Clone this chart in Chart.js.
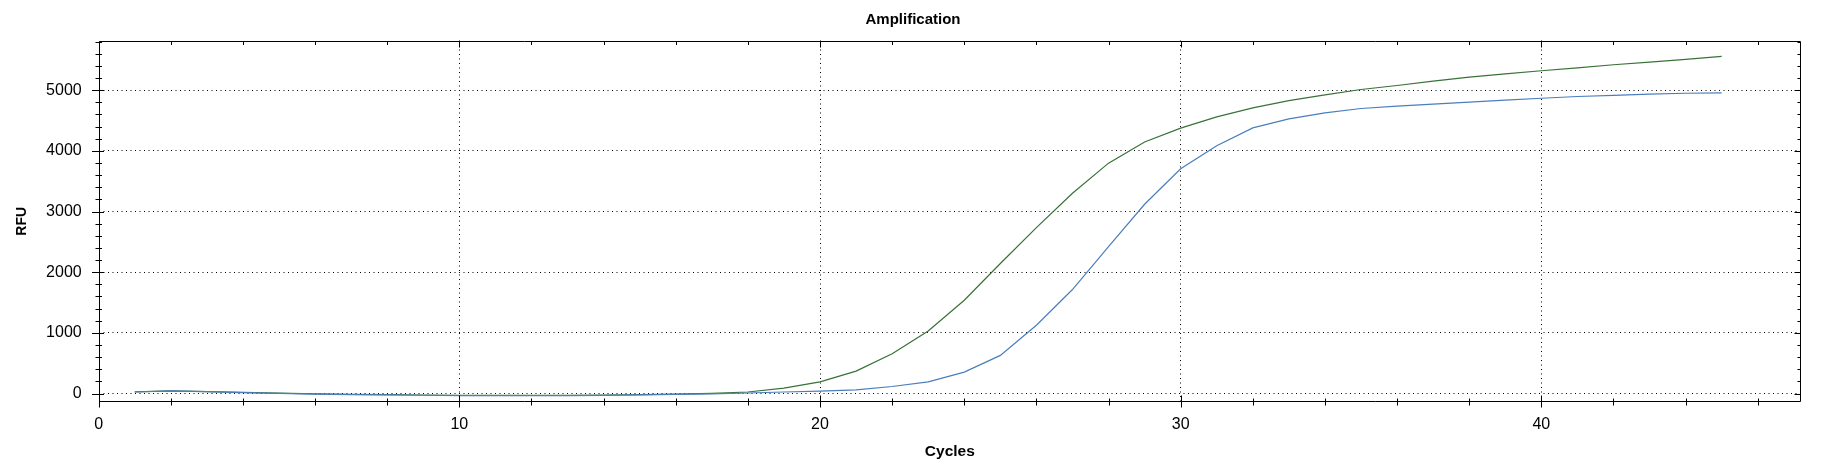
<!DOCTYPE html>
<html>
<head>
<meta charset="utf-8">
<script src="https://cdn.jsdelivr.net/npm/chart.js@4.4.0/dist/chart.umd.min.js"></script>
<style>
html,body{margin:0;padding:0;background:#ffffff;}
#wrap{width:1826px;height:476px;position:relative;}
</style>
</head>
<body>
<div id="wrap"><canvas id="c" width="1826" height="476"></canvas></div>
<script>
// ---- data ----
const cycles = [1,2,3,4,5,6,7,8,9,10,11,12,13,14,15,16,17,18,19,20,21,22,23,24,25,26,27,28,29,30,31,32,33,34,35,36,37,38,39,40,41,42,43,44,45];
const greenRFU = [28,45,32,18,5,-6,-14,-20,-25,-29,-31,-31,-29,-25,-18,-10,2,25,88,193,369,656,1031,1538,2144,2734,3302,3798,4146,4375,4560,4709,4830,4924,5012,5078,5149,5215,5271,5321,5370,5420,5463,5510,5557];
const blueRFU  = [25,42,30,15,2,-9,-17,-24,-29,-34,-36,-36,-34,-30,-23,-15,-5,8,25,39,61,116,193,353,628,1125,1714,2420,3120,3705,4086,4379,4528,4627,4699,4738,4771,4804,4837,4868,4897,4914,4936,4950,4958];
const xTickValues = [0,2,4,6,8,10,12,14,16,18,20,22,24,26,28,30,32,34,36,38,40,42,44,46];
const xTickLabels = [0,10,20,30,40];
const yTickValues = [0,200,400,600,800,1000,1200,1400,1600,1800,2000,2200,2400,2600,2800,3000,3200,3400,3600,3800,4000,4200,4400,4600,4800,5000,5200,5400,5600,5800];
const yTickLabels = [0,1000,2000,3000,4000,5000];
const chartTitle = 'Amplification';
const xTitle = 'Cycles';
const yTitle = 'RFU';

const FONT = "'Liberation Sans', Arial, sans-serif";
const NARROW = "'Liberation Sans Narrow', 'Arial Narrow', 'Liberation Sans', sans-serif";

const boxAndTicks = {
  id: 'boxAndTicks',
  afterDatasetsDraw(chart) {
    const {ctx, chartArea: a, scales: {x, y}} = chart;
    const L = Math.round(a.left) + 0.5, R = Math.round(a.right) - 0.5;
    const T = Math.round(a.top) + 0.5, B = Math.round(a.bottom) - 0.5;
    ctx.save();
    ctx.strokeStyle = '#000';
    ctx.lineWidth = 1;
    ctx.setLineDash([]);
    ctx.beginPath();
    ctx.rect(L, T, R - L, B - T);
    ctx.stroke();
    ctx.beginPath();
    x.ticks.forEach(t => {
      const p = Math.round(x.getPixelForValue(t.value)) + 0.5;
      const major = xTickLabels.includes(t.value);
      ctx.moveTo(p, B - (major ? 6 : 3)); ctx.lineTo(p, B + (major ? 6 : 4));
      ctx.moveTo(p, T); ctx.lineTo(p, T + (major ? 6 : 3.5));
    });
    y.ticks.forEach(t => {
      const p = Math.round(y.getPixelForValue(t.value)) + 0.5;
      const major = yTickLabels.includes(t.value);
      ctx.moveTo(L - (major ? 7.5 : 4), p); ctx.lineTo(L + (major ? 4.5 : 2.5), p);
      ctx.moveTo(R, p); ctx.lineTo(R - (major ? 6 : 3), p);
    });
    ctx.stroke();
    ctx.restore();
  }
};

new Chart(document.getElementById('c'), {
  type: 'line',
  data: {
    datasets: [
      {
        label: 'Blue',
        data: cycles.map((c, i) => ({x: c, y: blueRFU[i]})),
        borderColor: '#4a7ebd',
        borderWidth: 1.2,
        pointRadius: 0,
        tension: 0,
        fill: false
      },
      {
        label: 'Green',
        data: cycles.map((c, i) => ({x: c, y: greenRFU[i]})),
        borderColor: '#387238',
        borderWidth: 1.2,
        pointRadius: 0,
        tension: 0,
        fill: false
      }
    ]
  },
  options: {
    responsive: false,
    animation: false,
    devicePixelRatio: 1,
    layout: {padding: 0},
    plugins: {
      legend: {display: false},
      tooltip: {enabled: false},
      title: {
        display: true,
        text: chartTitle,
        color: '#000',
        font: {family: FONT, size: 15, weight: 'bold'},
        padding: {top: 11, bottom: 11.5}
      }
    },
    scales: {
      x: {
        type: 'linear',
        min: 0,
        max: 47.2,
        afterBuildTicks: s => { s.ticks = xTickValues.map(v => ({value: v})); },
        afterFit: s => { s.height = 74; },
        ticks: {
          autoSkip: false,
          maxRotation: 0,
          padding: 13,
          color: '#000',
          font: {family: FONT, size: 16},
          callback: v => xTickLabels.includes(v) ? String(v) : ''
        },
        grid: {
          drawTicks: false,
          lineWidth: 1,
          color: c => (c.tick && xTickLabels.includes(c.tick.value) && c.tick.value !== 0) ? '#000' : 'rgba(0,0,0,0)'
        },
        border: {display: false, dash: [1, 3.5]},
        title: {
          display: true,
          text: xTitle,
          color: '#000',
          font: {family: FONT, size: 15.5, weight: 'bold'},
          padding: {top: 0, bottom: 15}
        }
      },
      y: {
        type: 'linear',
        min: -140,
        max: 5820,
        afterBuildTicks: s => { s.ticks = yTickValues.map(v => ({value: v})); },
        afterFit: s => { s.width = 98.7; },
        ticks: {
          autoSkip: false,
          padding: 17,
          color: '#000',
          font: {family: FONT, size: 16},
          callback: v => yTickLabels.includes(v) ? String(v) : ''
        },
        grid: {
          drawTicks: false,
          lineWidth: 1,
          color: c => (c.tick && yTickLabels.includes(c.tick.value)) ? '#000' : 'rgba(0,0,0,0)'
        },
        border: {display: false, dash: [1, 3.5]},
        title: {
          display: true,
          text: yTitle,
          color: '#000',
          font: {family: NARROW, size: 14, weight: 'bold'},
          padding: {top: 13.5, bottom: 0}
        }
      },
      yRight: {
        type: 'linear',
        position: 'right',
        display: true,
        afterFit: s => { s.width = 25; },
        ticks: {display: false},
        grid: {display: false, drawTicks: false},
        border: {display: false}
      }
    }
  },
  plugins: [boxAndTicks]
});
</script>
</body>
</html>
